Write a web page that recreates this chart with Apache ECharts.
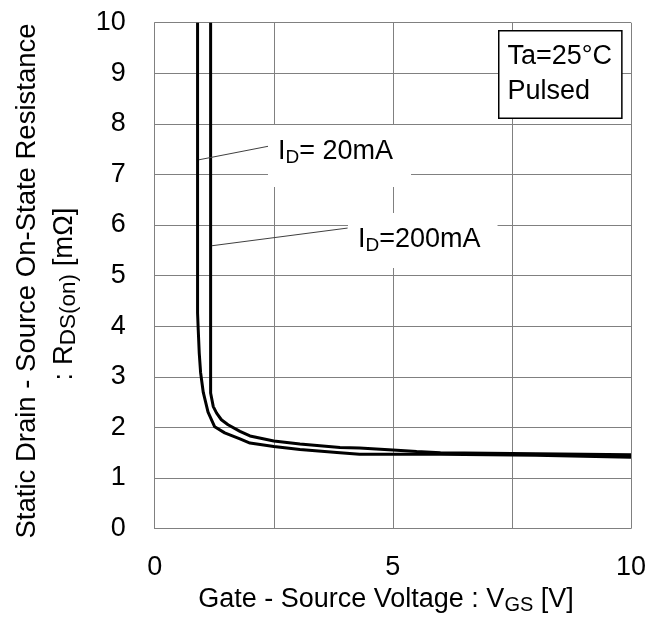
<!DOCTYPE html>
<html>
<head>
<meta charset="utf-8">
<script src="https://cdn.jsdelivr.net/npm/echarts@6/dist/echarts.min.js"></script>
<style>
html,body{margin:0;padding:0;background:#fff;}
#c{width:661px;height:626px;}
</style>
</head>
<body>
<div id="c"></div>
<script>
// Gate-source voltage [V] vs R_DS(on) [mΩ]
var id20mA = [
  [0.90, 10.0], [0.90, 4.26], [0.914, 3.93], [0.935, 3.47], [0.964, 3.08],
  [1.02, 2.69], [1.12, 2.30], [1.26, 2.01], [1.47, 1.89], [1.79, 1.77],
  [2.0, 1.69], [2.5, 1.62], [3.05, 1.56], [3.89, 1.50], [4.3, 1.47],
  [5.0, 1.47], [6.0, 1.47], [7.0, 1.46], [8.0, 1.45], [9.0, 1.43], [10.0, 1.41]
];
var id200mA = [
  [1.174, 10.0], [1.174, 2.68], [1.23, 2.41], [1.30, 2.28], [1.40, 2.15],
  [1.54, 2.05], [1.79, 1.92], [2.0, 1.83], [2.5, 1.73], [3.05, 1.67],
  [3.89, 1.60], [4.3, 1.59], [5.0, 1.55], [5.5, 1.52], [6.0, 1.50],
  [7.0, 1.49], [8.0, 1.48], [9.0, 1.47], [10.0, 1.46]
];
// leader lines for the annotations (data coordinates)
var leader20 = [[0.93, 7.29], [2.40, 7.56]];
var leader200 = [[1.20, 5.59], [4.05, 5.94]];
var xTickLabels = [0, 5, 10];

var FONT = 'Liberation Sans, Arial, sans-serif';
var chart = echarts.init(document.getElementById('c'), null, {renderer: 'canvas'});
var gridColor = '#808080';

function leader(p) {
  return {
    silent: true, symbol: 'none', animation: false,
    label: {show: false},
    lineStyle: {color: '#404040', width: 1, type: 'solid'},
    data: [[{coord: p[0]}, {coord: p[1]}]]
  };
}

var option = {
  animation: false,
  backgroundColor: '#fff',
  grid: {left: 154.7, right: 30, top: 22.7, bottom: 97.5, containLabel: false},
  xAxis: {
    type: 'value', min: 0, max: 10, interval: 2.5,
    axisLine: {show: true, lineStyle: {color: gridColor, width: 1}},
    axisTick: {show: false},
    splitLine: {show: true, lineStyle: {color: gridColor, width: 1}},
    axisLabel: {
      margin: 26, fontSize: 27, fontFamily: FONT, color: '#000',
      formatter: function (v) { return xTickLabels.indexOf(v) >= 0 ? String(v) : ''; }
    }
  },
  yAxis: {
    type: 'value', min: 0, max: 10, interval: 1,
    axisLine: {show: true, lineStyle: {color: gridColor, width: 1}},
    axisTick: {show: false},
    splitLine: {show: true, lineStyle: {color: gridColor, width: 1}},
    axisLabel: {margin: 29, fontSize: 27, fontFamily: FONT, color: '#000'}
  },
  series: [
    {
      name: 'ID=20mA', type: 'line', data: id20mA, showSymbol: false, symbol: 'none',
      lineStyle: {color: '#000', width: 3}, z: 3, clip: true,
      markLine: leader(leader20)
    },
    {
      name: 'ID=200mA', type: 'line', data: id200mA, showSymbol: false, symbol: 'none',
      lineStyle: {color: '#000', width: 3}, z: 3, clip: true,
      markLine: leader(leader200)
    }
  ],
  graphic: [
    {
      type: 'text', left: 268, top: 125, z: 100,
      style: {
        text: '{a|I}{s|D}{a|= 20mA}',
        backgroundColor: '#fff', padding: [11, 18, 20, 10],
        rich: {
          a: {fontSize: 27, fontFamily: FONT, fill: '#000', lineHeight: 30},
          s: {fontSize: 19, fontFamily: FONT, fill: '#000', padding: [12, 0, 0, 0]}
        }
      }
    },
    {
      type: 'text', left: 348, top: 213, z: 100,
      style: {
        text: '{a|I}{s|D}{a|=200mA}',
        backgroundColor: '#fff', padding: [11, 17, 13, 10],
        rich: {
          a: {fontSize: 27, fontFamily: FONT, fill: '#000', lineHeight: 30},
          s: {fontSize: 19, fontFamily: FONT, fill: '#000', padding: [12, 0, 0, 0]}
        }
      }
    },
    {
      type: 'text', left: 498, top: 30, z: 100,
      style: {
        text: 'Ta=25°C\nPulsed',
        fontSize: 27, fontFamily: FONT, fill: '#000', lineHeight: 35,
        backgroundColor: '#fff', borderColor: '#000', borderWidth: 1.5,
        padding: [8, 9, 8, 8]
      }
    },
    {
      type: 'text', x: 386, y: 600, z: 100,
      style: {
        text: '{a|Gate - Source Voltage : V}{s|GS}{a| [V]}',
        align: 'center', verticalAlign: 'middle',
        rich: {
          a: {fontSize: 27, fontFamily: FONT, fill: '#000', lineHeight: 30},
          s: {fontSize: 20, fontFamily: FONT, fill: '#000', padding: [10, 0, 0, 0]}
        }
      }
    },
    {
      type: 'text', x: 27, y: 281, rotation: Math.PI / 2, z: 100,
      style: {
        text: 'Static Drain - Source On-State Resistance',
        align: 'center', verticalAlign: 'middle',
        fontSize: 27.5, fontFamily: FONT, fill: '#000'
      }
    },
    {
      type: 'text', x: 64, y: 294, rotation: Math.PI / 2, z: 100,
      style: {
        text: '{a|: R}{s|DS(on)}{a| [mΩ]}',
        align: 'center', verticalAlign: 'middle',
        rich: {
          a: {fontSize: 27.5, fontFamily: FONT, fill: '#000', lineHeight: 30},
          s: {fontSize: 22.5, fontFamily: FONT, fill: '#000', padding: [10, 0, 0, 0]}
        }
      }
    }
  ]
};
chart.setOption(option);
</script>
</body>
</html>
